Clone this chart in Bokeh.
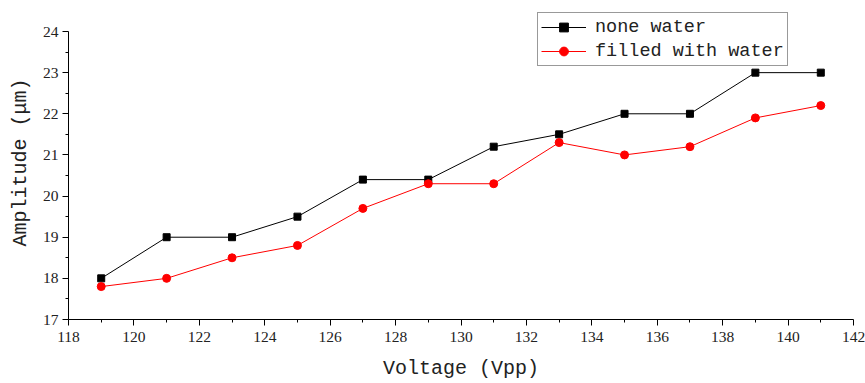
from bokeh.plotting import figure
from bokeh.models import Legend, LegendItem, Range1d, FixedTicker
from bokeh.embed import file_html
from bokeh.resources import INLINE

voltage = [119, 121, 123, 125, 127, 129, 131, 133, 135, 137, 139, 141]
none_water = [18.0, 19.0, 19.0, 19.5, 20.4, 20.4, 21.2, 21.5, 22.0, 22.0, 23.0, 23.0]
filled_water = [17.8, 18.0, 18.5, 18.8, 19.7, 20.3, 20.3, 21.3, 21.0, 21.2, 21.9, 22.2]
x_ticks = list(range(118, 143, 2))
y_ticks = list(range(17, 25))

# frame spans from y=5 to y=319; value 24 sits at y=31
frame_top, axis_top, frame_bottom = 5, 31, 319
px_per_unit = (frame_bottom - axis_top) / (y_ticks[-1] - y_ticks[0])
y_end = y_ticks[-1] + (axis_top - frame_top) / px_per_unit

p = figure(width=865, height=383, output_backend="svg", toolbar_location=None,
           x_range=Range1d(118, 142), y_range=Range1d(17, y_end),
           min_border_left=68, min_border_right=12, min_border_top=frame_top,
           min_border_bottom=383 - frame_bottom)
p.outline_line_color = None
p.xgrid.visible = False
p.ygrid.visible = False

l1 = p.line(voltage, none_water, line_color="black", line_width=1)
m1 = p.scatter(voltage, none_water, marker="square", size=7, fill_color="black", line_color="black")
l2 = p.line(voltage, filled_water, line_color="red", line_width=1)
m2 = p.scatter(voltage, filled_water, marker="circle", size=8, fill_color="red", line_color="red")

for ax, ticks in ((p.xaxis[0], x_ticks), (p.yaxis[0], y_ticks)):
    minor = [t + 0.5 * (ticks[1] - ticks[0]) for t in ticks[:-1]]
    ax.ticker = FixedTicker(ticks=ticks, minor_ticks=minor)
    ax.bounds = (ticks[0], ticks[-1])
    ax.axis_line_color = "black"
    ax.major_tick_line_color = "black"
    ax.minor_tick_line_color = "black"
    ax.major_tick_out = 6
    ax.major_tick_in = 0
    ax.minor_tick_out = 3
    ax.minor_tick_in = 0
    ax.major_label_text_font = "Liberation Serif"
    ax.major_label_text_font_size = "15.5px"
    ax.major_label_text_color = "#222222"
    ax.axis_label_text_font = "Liberation Mono"
    ax.axis_label_text_font_size = "20px"
    ax.axis_label_text_font_style = "normal"
    ax.axis_label_text_color = "#222222"

p.xaxis.axis_label = "Voltage (Vpp)"
p.yaxis.axis_label = "Amplitude (μm)"
p.xaxis.major_label_standoff = 6
p.yaxis.major_label_standoff = 4
p.xaxis.axis_label_standoff = 12
p.yaxis.axis_label_standoff = 8

legend = Legend(items=[LegendItem(label="none water", renderers=[l1, m1]),
                       LegendItem(label="filled with water", renderers=[l2, m2])],
                location=(469, 253))
legend.border_line_color = "#333333"
legend.border_line_width = 1
legend.background_fill_alpha = 1
legend.label_text_font = "Liberation Mono"
legend.label_text_font_size = "18.5px"
legend.label_text_color = "#222222"
legend.glyph_width = 45
legend.glyph_height = 22
legend.label_height = 22
legend.spacing = 2
legend.padding = 3
legend.margin = 0
legend.label_standoff = 9
p.add_layout(legend, "center")

open("out.html", "w").write(file_html(p, INLINE))
